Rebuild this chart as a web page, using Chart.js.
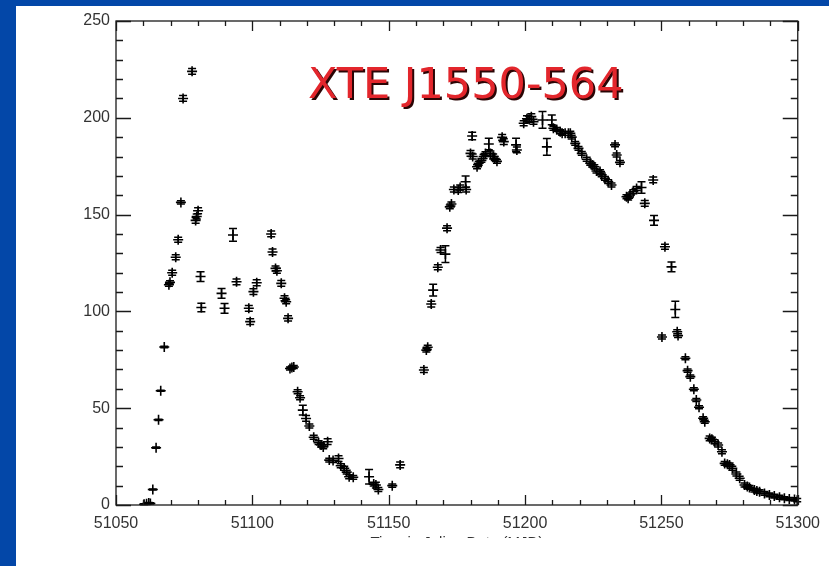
<!DOCTYPE html>
<html><head><meta charset="utf-8">
<script src="https://cdn.jsdelivr.net/npm/chart.js@4"></script>
<style>
html,body{margin:0;padding:0;background:#fff;}
#wrap{position:relative;width:829px;height:566px;overflow:hidden;background:#fff;}
#c{position:absolute;left:0;top:0;}
.blue{position:absolute;background:#0347a8;}
</style></head><body>
<div id="wrap">
<canvas id="c" width="829" height="566"></canvas>
<div class="blue" style="left:0;top:0;width:16px;height:566px"></div>
<div class="blue" style="left:0;top:0;width:829px;height:6px"></div>
</div>
<script>
const mjd = [51060.3,51061.2,51062.0,51062.6,51063.5,51064.7,51065.6,51066.4,51067.7,51069.4,51069.8,51070.6,51071.9,51072.8,51073.8,51074.6,51077.9,51079.2,51079.6,51080.1,51081.0,51081.3,51088.7,51089.8,51092.9,51094.2,51098.7,51099.2,51100.4,51101.6,51106.9,51107.4,51108.5,51109.0,51110.6,51111.8,51112.4,51113.1,51113.8,51114.5,51115.2,51116.6,51117.5,51118.5,51119.7,51120.9,51122.5,51124.3,51125.2,51126.0,51127.6,51128.2,51129.6,51131.6,51132.4,51133.7,51134.6,51135.5,51137.0,51142.8,51144.5,51145.3,51146.2,51151.3,51154.2,51162.9,51163.8,51164.3,51165.6,51166.3,51168.0,51169.0,51170.8,51171.4,51172.4,51173.0,51173.9,51175.5,51176.2,51178.2,51178.4,51180.0,51180.6,51180.8,51182.4,51183.0,51184.0,51184.8,51185.5,51186.7,51187.3,51188.3,51188.9,51189.7,51191.6,51192.2,51196.7,51197.0,51199.5,51200.7,51201.5,51202.3,51203.1,51206.4,51208.0,51209.8,51210.4,51211.6,51212.9,51213.6,51214.7,51215.9,51216.6,51217.1,51218.4,51219.6,51220.8,51222.6,51223.9,51224.6,51225.4,51226.2,51227.5,51228.1,51229.3,51230.5,51231.7,51233.0,51233.6,51234.8,51237.2,51237.8,51238.5,51239.7,51240.9,51242.7,51243.9,51247.0,51247.3,51250.2,51251.3,51253.7,51255.1,51255.8,51256.1,51258.8,51259.6,51260.6,51261.9,51262.8,51263.8,51265.3,51265.9,51267.7,51268.5,51269.5,51270.8,51272.2,51273.2,51274.2,51275.0,51276.0,51277.5,51278.7,51280.5,51281.5,51282.3,51284.1,51285.0,51286.0,51287.8,51289.6,51291.4,51293.3,51295.1,51296.9,51298.8,51299.8];
const rate = [0.4,0.6,1.0,0.8,8.0,29.6,44.0,59.0,81.6,113.8,115.0,120.0,128.0,137.0,156.3,210.0,224.0,147.0,149.0,152.0,118.0,102.0,109.3,101.6,139.5,115.3,101.6,94.7,110.2,114.8,140.0,130.7,122.2,121.0,114.5,106.8,105.0,96.4,70.5,71.0,71.3,58.5,55.4,49.0,44.7,40.8,35.0,32.2,31.0,30.0,32.7,23.2,23.0,24.0,20.3,19.0,17.0,14.6,14.3,14.6,10.8,10.3,8.0,10.0,20.7,69.7,80.0,81.5,103.8,111.0,122.8,131.7,129.6,143.0,154.0,155.5,163.0,162.7,164.0,167.0,163.0,181.6,190.6,180.0,174.7,176.5,178.0,180.0,181.5,186.5,181.6,180.0,179.0,177.5,189.9,187.7,186.0,183.4,197.2,199.5,199.2,200.6,198.0,198.9,185.0,198.9,194.6,194.0,192.8,192.0,192.0,192.0,192.0,190.0,186.8,184.2,181.6,178.6,176.5,175.6,174.7,172.5,172.2,170.5,168.7,167.0,165.3,186.0,180.8,177.0,159.2,158.5,160.1,161.8,163.5,164.0,155.8,167.9,147.0,86.8,133.4,123.0,101.0,89.5,87.5,75.8,69.4,66.3,59.8,54.2,50.5,44.8,43.0,34.4,34.0,32.7,31.0,27.5,21.5,21.0,20.7,19.0,16.0,13.8,10.3,9.5,9.1,7.7,7.2,6.9,6.0,5.2,4.6,4.0,3.5,3.1,2.9,2.5];
const err = [0.3,0.3,0.3,0.3,0.3,0.3,0.3,0.3,0.4,0.8,0.8,1.3,1.3,1.3,0.8,1.5,1.5,1.5,1.3,1.5,2.5,2.2,2.5,2.5,3.3,1.5,1.5,1.5,1.5,1.5,1.5,1.5,1.3,1.3,1.5,1.3,1.0,1.3,0.8,0.8,0.8,1.0,1.0,2.5,1.5,1.0,1.0,1.0,1.0,1.0,1.5,1.0,1.0,1.5,1.0,1.0,1.0,1.0,1.0,3.7,1.0,1.5,1.0,0.8,1.5,1.3,1.0,1.0,1.5,3.0,1.3,1.3,4.3,1.3,1.0,1.0,1.3,1.3,1.3,3.0,1.3,1.5,2.0,1.3,1.0,1.0,1.0,1.0,1.0,3.0,1.3,1.3,1.0,1.0,1.5,1.5,3.5,1.5,1.3,1.5,1.5,1.5,1.3,4.3,4.3,2.5,1.0,1.0,1.0,1.0,1.0,1.0,1.0,1.0,1.0,1.0,1.0,1.0,1.0,1.0,1.0,1.0,1.0,1.0,1.0,1.0,1.0,1.0,1.0,1.0,1.0,1.0,1.0,1.0,1.0,3.0,1.5,1.5,2.5,1.0,1.3,2.5,4.2,1.0,1.0,0.8,0.8,0.8,0.8,0.8,0.8,0.8,0.8,1.2,1.0,1.0,1.0,1.0,1.0,1.0,1.0,1.0,1.0,1.0,1.0,1.0,1.0,1.0,1.0,1.0,1.0,1.0,1.0,1.0,0.8,0.8,0.8,0.8,0.8];
const xTickValues = [51050,51100,51150,51200,51250,51300];
const yTickValues = [0,50,100,150,200,250];
const titleText = 'XTE J1550-564';
const xAxisTitle = 'Time in Julian Date (MJD)';

const framePlugin = {
  id: 'frame',
  afterDatasetsDraw(chart) {
    const {ctx, chartArea: a, scales: {x, y}} = chart;
    ctx.save();
    ctx.strokeStyle = '#000';
    ctx.lineWidth = 1.5;
    ctx.beginPath();
    for (let i = 0; i < mjd.length; i++) {
      const px = x.getPixelForValue(mjd[i]);
      const y1 = y.getPixelForValue(rate[i] - err[i]);
      const y2 = y.getPixelForValue(rate[i] + err[i]);
      ctx.moveTo(px, y1); ctx.lineTo(px, y2);
      ctx.moveTo(px - 4, y1); ctx.lineTo(px + 4, y1);
      ctx.moveTo(px - 4, y2); ctx.lineTo(px + 4, y2);
    }
    ctx.stroke();
    // frame and ticks
    ctx.strokeStyle = '#1a1a1a';
    ctx.lineWidth = 1.3;
    ctx.strokeRect(a.left, a.top, a.right - a.left, a.bottom - a.top);
    ctx.beginPath();
    for (let v = y.min; v <= y.max; v += 10) {
      const py = Math.round(y.getPixelForValue(v)) + 0.5;
      const len = (v % 50 === 0) ? 15 : 7;
      ctx.moveTo(a.left, py); ctx.lineTo(a.left + len, py);
      ctx.moveTo(a.right, py); ctx.lineTo(a.right - len, py);
    }
    for (let v = x.min; v <= x.max; v += 10) {
      const px = Math.round(x.getPixelForValue(v)) + 0.5;
      const len = ((v - x.min) % 50 === 0) ? 10 : 5;
      ctx.moveTo(px, a.bottom); ctx.lineTo(px, a.bottom - len);
      ctx.moveTo(px, a.top); ctx.lineTo(px, a.top + len);
    }
    ctx.stroke();
    ctx.restore();
  },
  afterDraw(chart) {
    const ctx = chart.ctx;
    ctx.save();
    // clip bottom of the figure (x title cut off)
    ctx.fillStyle = '#fff';
    ctx.fillRect(0, 538, chart.width, chart.height - 538);
    // title
    ctx.font = '43px "DejaVu Sans"';
    ctx.textBaseline = 'alphabetic';
    ctx.textAlign = 'left';
    ctx.fillStyle = '#2a0505';
    ctx.fillText(titleText, 310, 100);
    ctx.fillStyle = '#e3262c';
    ctx.fillText(titleText, 308, 98);
    ctx.restore();
  }
};

new Chart(document.getElementById('c'), {
  type: 'scatter',
  data: {
    datasets: [{
      data: mjd.map((v, i) => ({x: v, y: rate[i]})),
      pointStyle: 'cross',
      radius: 5,
      borderColor: '#000',
      backgroundColor: '#000',
      borderWidth: 1.6,
      showLine: false
    }]
  },
  options: {
    responsive: false,
    animation: false,
    events: [],
    layout: {padding: {left: 0, right: 29, top: 21, bottom: 0}},
    plugins: {legend: {display: false}, tooltip: {enabled: false}},
    scales: {
      x: {
        type: 'linear', min: 51050, max: 51300,
        grid: {display: false, drawTicks: false},
        border: {display: false},
        afterBuildTicks: s => { s.ticks = xTickValues.map(v => ({value: v})); },
        afterFit: s => { s.height = 61; },
        ticks: {font: {family: 'Liberation Sans', size: 16}, color: '#333', padding: 9, maxRotation: 0, callback: v => String(v)},
        title: {display: true, text: xAxisTitle, font: {family: 'Liberation Sans', size: 15}, color: '#333', padding: {top: 0, bottom: 14}}
      },
      y: {
        type: 'linear', min: 0, max: 250,
        grid: {display: false, drawTicks: false},
        border: {display: false},
        afterBuildTicks: s => { s.ticks = yTickValues.map(v => ({value: v})); },
        afterFit: s => { s.width = 116; },
        ticks: {font: {family: 'Liberation Sans', size: 16}, color: '#333', padding: 6, callback: v => String(v)}
      }
    }
  },
  plugins: [framePlugin]
});
</script>
</body></html>
